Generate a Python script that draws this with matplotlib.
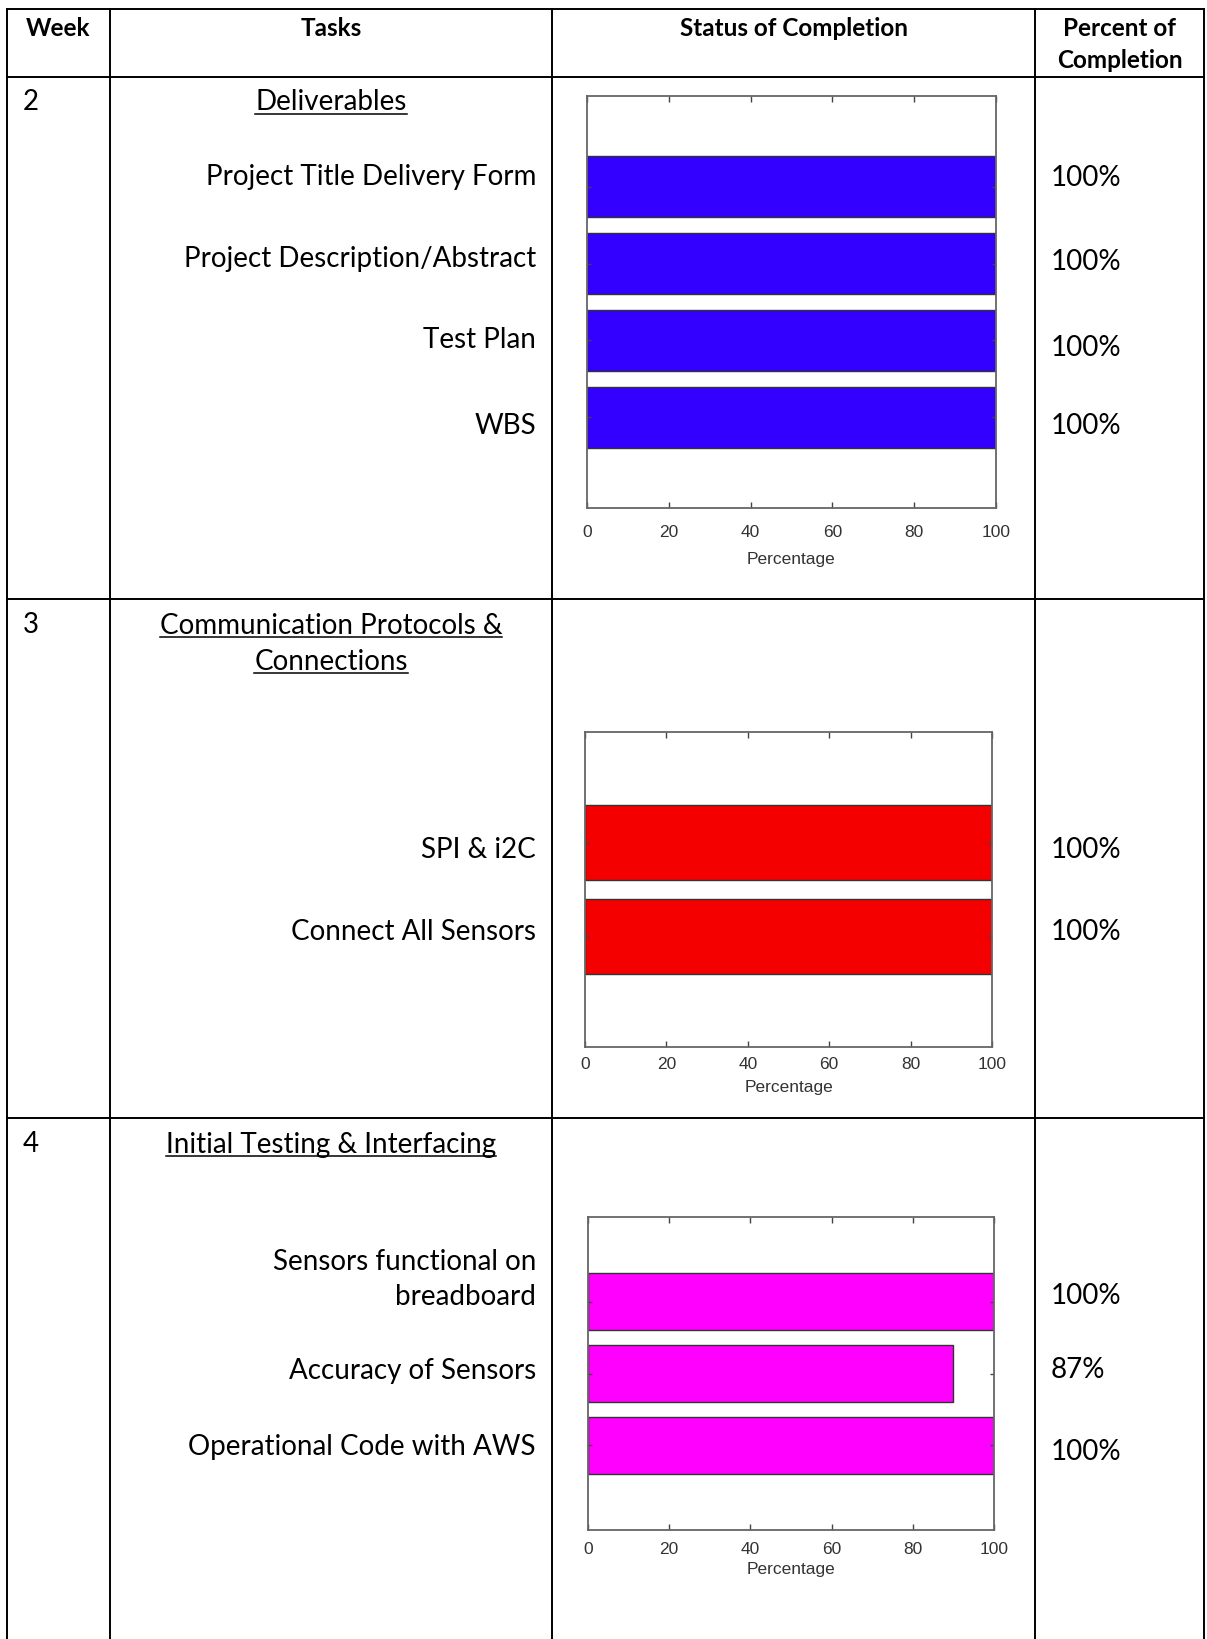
import numpy as np
import matplotlib.pyplot as plt
from matplotlib.lines import Line2D

# ---- data ----
header_labels = ['Week', 'Tasks', 'Status of Completion', 'Percent of\nCompletion']
week_numbers = ['2', '3', '4']
section_titles = [['Deliverables'],
                  ['Communication Protocols &', 'Connections'],
                  ['Initial Testing & Interfacing']]

wk2_tasks = ['Project Title Delivery Form', 'Project Description/Abstract', 'Test Plan', 'WBS']
wk2_values = [100, 100, 100, 100]
wk2_pct = ['100%', '100%', '100%', '100%']

wk3_tasks = ['SPI & i2C', 'Connect All Sensors']
wk3_values = [100, 100]
wk3_pct = ['100%', '100%']

wk4_tasks = ['Sensors functional on\nbreadboard', 'Accuracy of Sensors', 'Operational Code with AWS']
wk4_values = [100, 90, 100]
wk4_pct = ['100%', '87%', '100%']

# ---- layout (pixel positions on the page) ----
W, H = 1207, 1639
col_x = [7, 110, 552, 1035, 1204]
row_y = [9, 77, 599, 1118]
week_y = [100, 622, 1142]
title_y = [[100], [623, 659], [1142]]
task_y = [[175, 257, 337, 424], [847, 929], [1272, 1368, 1444]]
pct_y = [[175, 259, 346, 423], [847, 929], [1293, 1368, 1449]]
axes_box = [(587, 96, 996, 508), (585, 732, 992, 1047), (588, 1217, 994, 1530)]
axes_pads = [(12.5, 8.5), (7.5, 5.5), (9, 3.5)]
bar_colors = ['#3300ff', '#f50000', '#ff00ff']

BODY = ['Lato', 'DejaVu Sans']
BODY_SIZE = 20
TEXT_COL = '#000000'

fig = plt.figure(figsize=(W / 100, H / 100), dpi=100)


def fx(x):
    return x / W


def fy(y):
    return 1 - y / H


# table grid
for x in col_x:
    fig.add_artist(Line2D([fx(x), fx(x)], [fy(row_y[0]), 0], color='black', lw=1.4))
for y in row_y:
    fig.add_artist(Line2D([fx(col_x[0]), fx(col_x[-1])], [fy(y), fy(y)], color='black', lw=1.4))

# header
col_centers = [(col_x[i] + col_x[i + 1]) / 2 for i in range(4)]
for cx, lab in zip(col_centers, header_labels):
    fig.text(fx(cx), fy(17), lab, ha='center', va='top', fontsize=17.5, fontweight='bold',
             family=BODY, color=TEXT_COL, linespacing=1.45)

renderer = fig.canvas.get_renderer()


def underlined(x, y, s):
    t = fig.text(fx(x), fy(y), s, ha='center', va='center_baseline', fontsize=BODY_SIZE,
                 family=BODY, color=TEXT_COL)
    bb = t.get_window_extent(renderer)
    fig.add_artist(Line2D([bb.x0 / W, bb.x1 / W], [fy(y + 14), fy(y + 14)], color=TEXT_COL, lw=1.1))


all_tasks = [wk2_tasks, wk3_tasks, wk4_tasks]
all_values = [wk2_values, wk3_values, wk4_values]
all_pct = [wk2_pct, wk3_pct, wk4_pct]

for i in range(3):
    fig.text(fx(23), fy(week_y[i]), week_numbers[i], ha='left', va='center_baseline',
             fontsize=BODY_SIZE, family=BODY, color=TEXT_COL)
    for line, ty in zip(section_titles[i], title_y[i]):
        underlined(col_centers[1], ty, line)
    for lab, ty in zip(all_tasks[i], task_y[i]):
        fig.text(fx(536), fy(ty), lab, ha='right', va='center_baseline', fontsize=BODY_SIZE,
                 family=BODY, color=TEXT_COL, linespacing=1.45, multialignment='right')
    for lab, py in zip(all_pct[i], pct_y[i]):
        fig.text(fx(1051), fy(py), lab, ha='left', va='center_baseline', fontsize=BODY_SIZE,
                 family=BODY, color=TEXT_COL)

    # bar chart in the status column
    left, top, right, bottom = axes_box[i]
    ax = fig.add_axes([fx(left), fy(bottom), (right - left) / W, (bottom - top) / H])
    vals = all_values[i]
    pos = np.arange(len(vals))
    ax.barh(pos, vals, height=0.8, color=bar_colors[i], edgecolor='#333333', linewidth=1.0)
    ax.set_xlim(0, 100)
    ax.set_ylim(len(vals) - 1 + 1.18, -1.18)
    ax.set_xticks(range(0, 101, 20))
    ax.set_yticks(pos)
    ax.set_yticklabels([])
    ax.tick_params(axis='x', direction='in', top=True, length=4, width=1, color='#444444',
                   labelsize=12.5, labelcolor='#333333', pad=axes_pads[i][0])
    ax.tick_params(axis='y', direction='in', right=True, length=3, width=1, color='#444444')
    for lbl in ax.get_xticklabels():
        lbl.set_family(['Liberation Sans', 'DejaVu Sans'])
    ax.set_xlabel('Percentage', fontsize=12.5, color='#333333', labelpad=axes_pads[i][1],
                  family=['Liberation Sans', 'DejaVu Sans'])
    for s in ax.spines.values():
        s.set_color('#666666')
        s.set_linewidth(1.3)

fig.savefig('out.png', dpi=100)
